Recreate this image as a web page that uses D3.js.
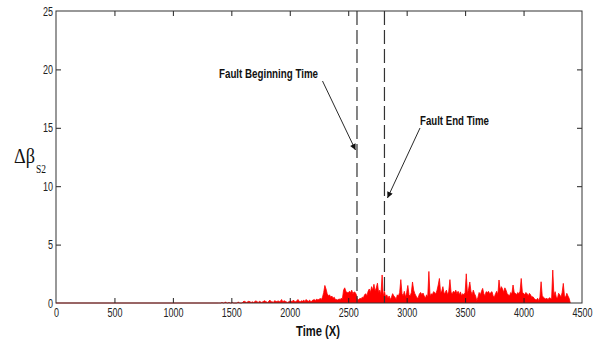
<!DOCTYPE html>
<html><head><meta charset="utf-8">
<script src="https://cdn.jsdelivr.net/npm/d3@7"></script>
<style>body{margin:0;background:#fff}svg{display:block}</style>
</head><body>
<svg id="c" width="611" height="342"></svg>
<script>
// ---- data ----
const xTicks = [0,500,1000,1500,2000,2500,3000,3500,4000,4500];
const yTicks = [0,5,10,15,20,25];
const faultTimes = [2575, 2810];
const faultLabels = ["Fault Beginning Time", "Fault End Time"];
const seriesStart = 1400, seriesStep = 10;   // time of first sample and sample spacing
const seriesValues = [
 0,0,0.05,0,0,0.1,0,0,0.05,0,
 0,0.05,0,0,0,0,0.1,0,0,0,
 0.1,0.15,0.1,0.05,0.1,0.15,0.1,0.05,0.1,0.05,
 0.1,0.2,0.1,0.05,0.15,0.1,0.05,0.1,0.2,0.15,
 0.1,0.05,0.15,0.25,0.1,0.1,0.05,0.2,0.15,0.1,
 0.2,0.1,0.15,0.3,0.1,0.2,0.15,0.1,0.05,0.1,
 0.15,0.2,0.1,0.25,0.15,0.1,0.2,0.3,0.15,0.1,
 0.2,0.15,0.25,0.1,0.3,0.2,0.15,0.25,0.1,0.2,
 0.25,0.3,0.2,0.35,0.25,0.3,0.4,0.3,0.5,0.9,
 1.5,1.2,0.8,0.6,0.7,0.5,0.6,0.4,0.5,0.3,
 0.3,0.25,0.35,0.3,0.4,0.35,1.1,1.3,1.0,0.9,
 0.85,1.0,0.9,1.1,0.8,0.95,0.9,0.7,0.25,0.3,
 0.4,0.35,0.5,0.45,0.7,0.8,0.6,1.0,1.2,0.9,
 1.4,1.1,1.6,1.0,1.3,1.7,0.9,1.1,0.7,2.4,
 0.6,1.0,0.5,0.7,0.4,0.6,0.3,0.5,0.8,0.6,
 0.5,0.3,0.7,0.6,0.9,2.0,0.8,0.6,1.0,0.5,
 0.9,1.5,0.7,0.6,0.9,1.8,1.1,0.8,0.6,0.4,
 0.5,0.8,0.9,0.7,0.85,0.6,0.4,0.7,0.5,2.7,
 0.6,0.8,0.7,0.97,0.9,0.8,1.1,1.54,2.1,0.9,
 1.0,1.4,0.8,0.9,1.1,0.7,1.0,2.0,0.9,0.8,
 1.0,0.9,1.1,0.8,1.0,0.7,0.95,0.6,0.8,0.7,
 0.9,2.5,0.8,1.2,1.8,1.0,0.7,1.1,0.8,0.6,
 0.2,0.5,0.9,0.7,1.0,1.25,0.8,0.6,0.97,0.9,
 1.0,0.8,0.9,0.97,0.6,0.5,0.8,1.0,0.7,1.97,
 1.1,1.4,1.2,0.9,1.3,1.1,0.8,0.7,0.6,0.9,
 0.8,1.54,0.9,0.83,0.7,0.9,0.8,1.0,2.1,0.9,
 0.83,0.7,0.9,0.8,0.6,0.83,0.7,0.5,0.54,0.4,
 0.3,0.26,0.4,0.2,0.5,1.82,0.6,0.5,0.4,0.35,
 0.4,0.3,0.45,0.4,0.35,2.82,0.6,0.97,0.5,0.4,
 0.83,0.7,0.5,0.9,1.68,0.6,0.5,0.83,0.6,0.4,
 0
];

// ---- layout ----
const L = 56, R = 582, T = 11, B = 303;
const svg = d3.select("#c");
const x = d3.scaleLinear().domain([0,4500]).range([L,R]);
const y = d3.scaleLinear().domain([0,25]).range([B,T]);
const sans = "'Liberation Sans','Arial',sans-serif";
const serif = "'Liberation Serif','Times New Roman',serif";

// condense text horizontally (narrow font look)
function condense(sel, k){
  sel.each(function(){
    const w = this.getComputedTextLength();
    this.setAttribute("textLength", (w*k).toFixed(2));
    this.setAttribute("lengthAdjust","spacingAndGlyphs");
  });
}

const pts = [[0,0],[seriesStart-seriesStep,0]].concat(seriesValues.map((v,i)=>[seriesStart+i*seriesStep, v]));

// area + line
svg.append("path").datum(pts)
  .attr("d", d3.area().x(d=>x(d[0])).y0(y(0)).y1(d=>y(d[1])))
  .attr("fill","#ff0000");
svg.append("path").datum(pts)
  .attr("d", d3.line().x(d=>x(d[0])).y(d=>y(d[1])))
  .attr("fill","none").attr("stroke","#ff0000").attr("stroke-width",0.8);

// axes with inward ticks
const tk = 5;
const ax = svg.append("g").attr("transform",`translate(0,${B})`)
  .call(d3.axisBottom(x).tickValues(xTicks).tickSize(-tk).tickPadding(5).tickFormat(d3.format("d")));
const axTop = svg.append("g").attr("transform",`translate(0,${T})`)
  .call(d3.axisTop(x).tickValues(xTicks).tickSize(-tk).tickFormat(""));
const ay = svg.append("g").attr("transform",`translate(${L},0)`)
  .call(d3.axisLeft(y).tickValues(yTicks).tickSize(-tk).tickPadding(3).tickFormat(d3.format("d")));
const ayR = svg.append("g").attr("transform",`translate(${R},0)`)
  .call(d3.axisRight(y).tickValues(yTicks).tickSize(-tk).tickFormat(""));
[ax,axTop,ay,ayR].forEach(g=>{
  g.select(".domain").remove();
  g.selectAll(".tick line").attr("stroke","#222");
  g.selectAll("text").attr("font-family",sans).attr("font-size",12.5).attr("fill","#222");
});
condense(ax.selectAll("text"), 0.72);
condense(ay.selectAll("text"), 0.72);
ax.selectAll(".tick").filter(d=>d===0||d===4500).select("line").remove();
ay.selectAll(".tick").filter(d=>d===0||d===25).select("line").remove();
ayR.selectAll(".tick").filter(d=>d===0||d===25).select("line").remove();
axTop.selectAll(".tick").filter(d=>d===0||d===4500).select("line").remove();

// frame
svg.append("rect").attr("x",L).attr("y",T).attr("width",R-L).attr("height",B-T)
  .attr("fill","none").attr("stroke","#333").attr("stroke-width",1);

// fault lines
svg.selectAll(".fl").data(faultTimes).enter().append("line")
  .attr("x1",d=>x(d)).attr("x2",d=>x(d)).attr("y1",T).attr("y2",B)
  .attr("stroke","#333").attr("stroke-width",1.2).attr("stroke-dasharray","14,5");

// arrows
const defs = svg.append("defs");
defs.append("marker").attr("id","ah").attr("viewBox","0 0 10 10").attr("refX",10).attr("refY",5)
  .attr("markerWidth",10).attr("markerHeight",6).attr("markerUnits","userSpaceOnUse").attr("orient","auto")
  .append("path").attr("d","M0,0 L10,5 L0,10 Z").attr("fill","#111");
const ann = [
  {t:faultLabels[0], tx:219, ty:78, w:99, x1:322.5, y1:81, x2:x(faultTimes[0])-1.5, y2:150},
  {t:faultLabels[1], tx:420, ty:125, w:69, x1:420, y1:128, x2:x(faultTimes[1])+3, y2:198}
];
ann.forEach(a=>{
  svg.append("line").attr("x1",a.x1).attr("y1",a.y1).attr("x2",a.x2).attr("y2",a.y2)
    .attr("stroke","#111").attr("stroke-width",0.9).attr("marker-end","url(#ah)");
  svg.append("text").attr("x",a.tx).attr("y",a.ty).text(a.t)
    .attr("font-family",sans).attr("font-weight","bold").attr("font-size",12.5).attr("fill","#111")
    .attr("textLength",a.w).attr("lengthAdjust","spacingAndGlyphs");
});

// axis titles
svg.append("text").attr("x",296).attr("y",336)
  .attr("font-family",sans).attr("font-weight","bold").attr("font-size",14.5).attr("fill","#111")
  .attr("textLength",44).attr("lengthAdjust","spacingAndGlyphs")
  .text("Time (X)");
svg.append("text").attr("x",14).attr("y",163)
  .attr("font-family",serif).attr("font-size",21).attr("fill","#111")
  .attr("textLength",21).attr("lengthAdjust","spacingAndGlyphs").text("Δβ");
svg.append("text").attr("x",36).attr("y",173).attr("font-family",serif)
  .attr("font-size",13).attr("fill","#111").attr("textLength",10).attr("lengthAdjust","spacingAndGlyphs").text("S2");
</script>
</body></html>
